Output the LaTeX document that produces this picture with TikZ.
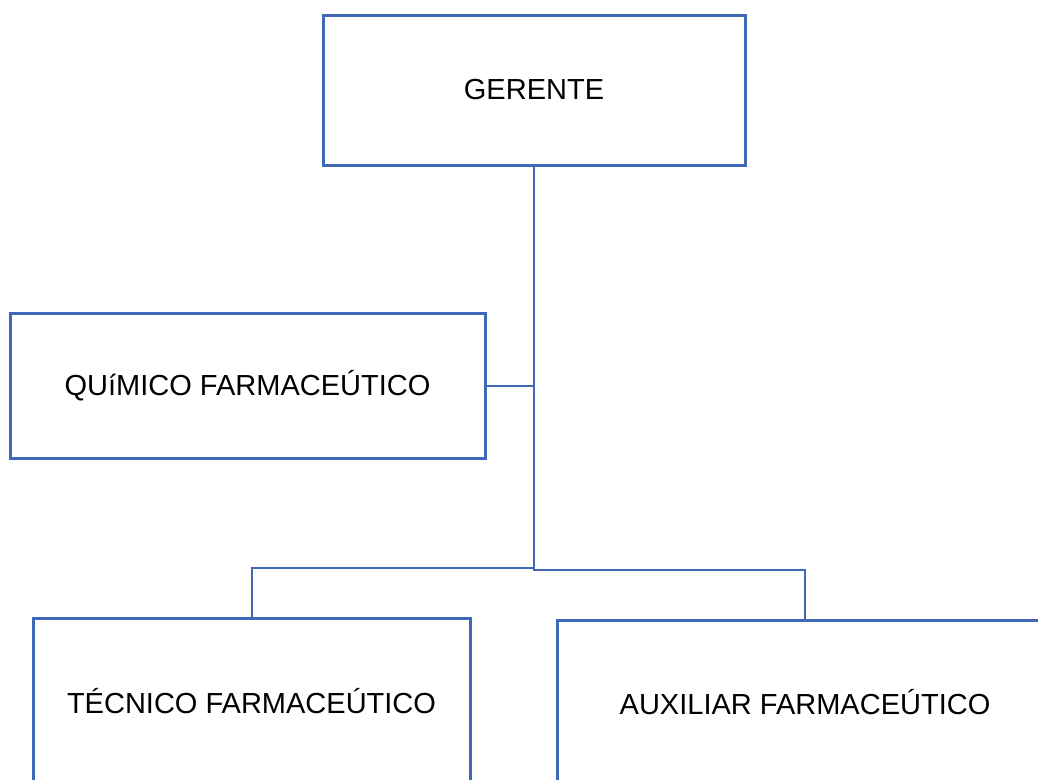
\documentclass[tikz,border=0pt]{standalone}
\usepackage{fontspec}
\setmainfont{Liberation Sans}
\usetikzlibrary{calc}
\definecolor{orgblue}{RGB}{63,104,182}

\begin{document}
\begin{tikzpicture}[x=1pt,y=-1pt,
			cargo/.style={rectangle, draw=orgblue, line width=3pt, fill=white,
					text centered, text=black, font=\fontsize{29}{34}\selectfont},
			link/.style={draw=orgblue, line width=2pt}]
		\useasboundingbox (0,0) rectangle (1038,779);
		\clip (0,0) rectangle (1038,779);

		\node (gerente) [cargo, minimum width=422pt, minimum height=150pt] at (534,90) {GERENTE};
		\node (quimico) [cargo, minimum width=475pt, minimum height=145pt] at (247.5,385.5) {QUíMICO FARMACEÚTICO};
		\node (tecnico) [cargo, minimum width=437pt, minimum height=166pt] at (251.5,701) {TÉCNICO FARMACEÚTICO};
		\node (auxiliar) [cargo, minimum width=496pt, minimum height=164pt] at (805,702) {AUXILIAR FARMACEÚTICO};

		\coordinate (jl) at (534,567.5);
		\coordinate (jr) at (534,570);

		\draw [link] (gerente.south) -- (jr) -| (auxiliar.north);
		\draw [link] (jl) -| (tecnico.north);
		\draw [link] (quimico.east) -- (quimico.east -| gerente.south);
	\end{tikzpicture}
\end{document}
